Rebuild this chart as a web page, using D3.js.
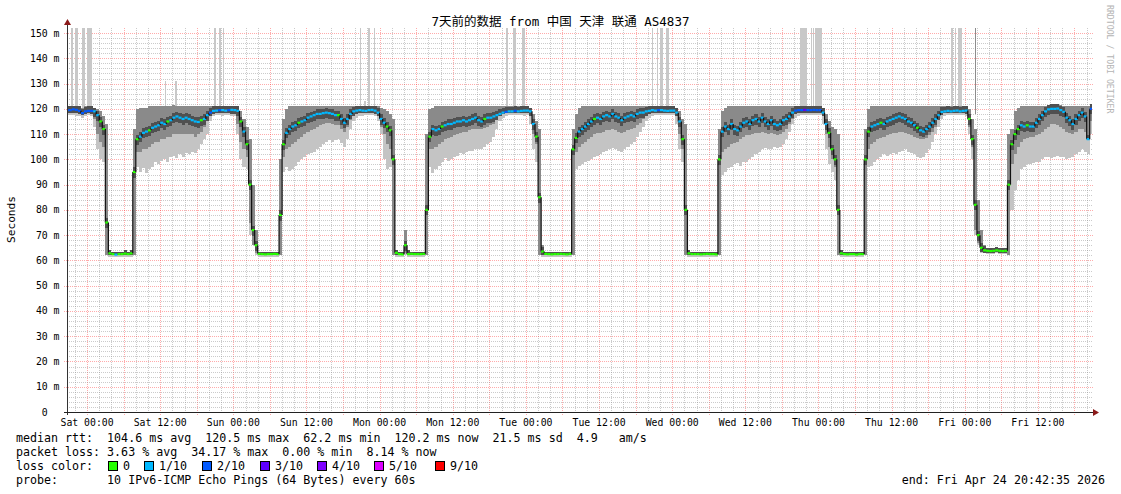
<!DOCTYPE html>
<html><head><meta charset="utf-8">
<script src="https://cdn.jsdelivr.net/npm/d3@7"></script>
<style>
html,body{margin:0;padding:0;background:#fff;}
svg{display:block;}
text{font-family:"DejaVu Sans Mono","Noto Sans CJK SC",monospace;white-space:pre;}
</style></head><body>
<svg id="c" width="1121" height="494"></svg>
<script>
// ---- data: 30-minute bins starting Fri 2026-04-17 20:30 UTC ----
const binStart = Date.UTC(2026,3,17,20,30,0);
const binMinutes = 30;

// median rtt (ms)
const median = [
119.5,119.5,119.8,119.6,119.2,118.3,119.0,
// Sat
119.2,119.2,119.0,117.5,115,112,75,62.8,
62.5,62.3,62.5,62.5,62.7,62.5,62.8,95,
108,109,110.5,111,111.5,112.5,113,113.5,
114.5,114,115,115.5,116.5,117,116.5,116,
116.5,116,115.5,115,114.8,115.5,116,117.5,
118.5,119.2,119.3,119.5,119.5,119.3,119.5,119.6,
// Sun
119.5,119.2,115,111,106,90,72,66,
62.6,62.5,62.4,62.5,62.5,62.6,62.5,78,
106,110.5,112,113,113.5,114.5,115,115.5,
116.5,117,117.5,118,118,118.3,118.5,118.3,
118,117.5,117.5,116,114.5,116,118,119,
119.3,119.5,119.3,119.2,119.5,119.6,119.3,118.5,
// Mon
116,114.5,113,111.5,100,63,62.5,62.4,
66,62.5,62.6,62.5,62.5,62.5,62.6,80,
109,112,111.5,112,113,113.5,114,114,
114.5,115,115,115.5,115,115.5,116,116.5,
115.5,115,116,116.5,116.5,117,117.5,118,
118.5,118.8,119,119,119.2,119,119.2,119.3,
// Tue
119.3,119,114,109,85,63.5,62.6,62.5,
62.4,62.5,62.5,62.6,62.5,62.4,62.6,104,
108.5,111,112,113,114,115,116,116.5,
116,117,117.5,117,118,117,116.5,115.5,
116.5,117,117.5,117,118,118.5,118.5,119,
119.2,119.5,119.3,119.5,119.5,119.3,119.2,119.3,
// Wed
119.3,118.5,115,108,80,62.8,62.5,62.5,
62.5,62.4,62.5,62.6,62.5,62.5,62.4,100,
111,113,112,114,112,111.5,113,114.5,
115,114,115.5,116,115,116.5,115,114,
115.5,114,113.5,114,115.5,116,117,118.5,
119.3,119.5,119.5,119.6,119.5,119.5,119.6,119.5,
// Thu
119.5,118.5,114,110.5,104,100,80,62.8,
62.5,62.4,62.5,62.5,62.3,62.5,62.5,100,
111,113,113.5,114,114.5,114,115,115.5,
116,116.5,117,116.5,116,115,114.5,113.5,
112.5,111.5,111,112,113,114.5,116,117.5,
118.8,119,119.2,119,119.2,119.3,119,119.2,
// Fri
119.3,116,108,82,70,65,64,63.8,
63.7,63.8,64,63.8,63.7,63.8,90,106,
110,112,113.5,113,113.5,113,113,114.5,
116,117.5,119,119.8,120,120,120.1,119.5,
118.8,116.5,115.5,114,116,117.5,118.5,117,
108,120
];

// top of the smoke (highest ping, ms)
const smokeHigh = [
121,121,121,121,121,120.5,121,
// Sat
121,121,120.5,120,119,117,114,64,
63.5,63.5,63.5,63.5,64,63.5,64,112,
120,120.5,120.5,120.5,121,121,121,121,
121,121,121,121,121.5,121,121,121,
121,121,121,121,121,121,121,121,
121,121,121,121,121,121,121,121,
// Sun
121,121,119,116,113,108,90,72,
63.5,63.5,63.5,63.5,63.5,63.5,63.5,100,
116,120,121,121,121,121,121,121,
121,121,121,121,121,121,121,121,
121,121,121,121,121,121,121,121,
121,121,121,121,121,121,121,121,
// Mon
120.5,120,119,118,116,64,63.5,63.5,
72,64,63.5,63.5,63.5,63.5,63.5,110,
120,120.5,121,121,121,121,121,121,
121,121,121,121,121,121,121,121,
121,121,121,121,121,121,121,121,
121,121,121,121,121,121,121,121,
// Tue
121,120.5,118,115,112,66,63.5,63.5,
63.5,63.5,63.5,63.5,63.5,63.5,63.5,112,
118,120.5,121,121,121,121,121,121,
121,121,121,121,121,121,121,121,
121,121,121,121,121,121,121,121,
121,121,121,121,121,121,121,121,
// Wed
121,120.5,119,116,114,64,63.5,63.5,
63.5,63.5,63.5,63.5,63.5,63.5,63.5,112,
119,120.5,121,121,121,121,121,121,
121,121,121,121,121,121,121,121,
121,121,121,121,121,121,121,121,
121,121,121,121,121,121,121,121,
// Thu
121,120.5,118,115,113,112,110,64,
63.5,63.5,63.5,63.5,63.5,63.5,63.5,112,
120,121,121,121,121,121,121,121,
121,121,121,121,121,121,121,121,
121,121,121,121,121,121,121,121,
121,121,121,121,121,121,121,121,
// Fri
121,120,116,112,84,72,66,65,
65,65,65.5,65,65,65,110,112,
119,120.5,121,121,121,121,121,121,
121,121,121,121.5,122,122,122,121.5,
121,121,121,121,121,121,121,121,
121,122
];

// bottom of the light smoke (lowest ping, ms)
const smokeLow = [
117.5,117.5,117.5,117,117,116.5,117,
// Sat
117.5,117,113,104,100,99,62,61.5,
61.5,61.5,61.5,61.5,61.5,61.5,61.5,62,
97,95,96.5,94.5,96,97,99,98,
99.5,100,99,101,101.5,100.5,102,101,
102.5,102,103,102.5,104,106,108,110,
115,117,117.5,117.5,117,117.5,117.5,117,
// Sun
117,110,100,97,96,70,66,62,
61.5,61.5,61.5,61.5,61.5,61.5,61.5,62,
95,97,95.5,96,97.5,99,100,101,
102,102.5,103,104,105,106,107,107.5,
107,107.5,108,106.5,105,108,112,115,
116.5,117,117,117.5,117.5,117.5,117,115,
// Mon
110,100,96,97,62,61.5,61.5,61.5,
62,61.5,61.5,61.5,61.5,61.5,61.5,62,
97,94.5,96,97.5,99,100.5,99.5,100,
101,101.5,102.5,102,103,103.5,103.5,104,
104,104,105,106,107,109,112,115,
116.5,117,117.5,117.5,117.5,117.5,117.5,117,
// Tue
117.5,114,104,99,62,61.5,61.5,61.5,
61.5,61.5,61.5,61.5,61.5,61.5,61.5,62,
96,97.5,98,99,99.5,100,101,101.5,
102,103,103.5,104,104.5,104,103.5,103,
104,105,106,107,109,111,113,115,
116.5,117,117.5,117.5,117.5,117.5,117.5,117.5,
// Wed
117.5,114,104,99,62,61.5,61.5,61.5,
61.5,61.5,61.5,61.5,61.5,61.5,61.5,62,
94,95,96.5,97,98,98.5,97.5,99,
99,100,101,102,103,104,104.5,104,
104,105,104.5,105,106,108,111,114,
116.5,117,117.5,117.5,117.5,117.5,117.5,117.5,
// Thu
117.5,114,104,98,95,92,62,61.5,
61.5,61.5,61.5,61.5,61.5,61.5,61.5,62,
97,97.5,99,100,101,102,101.5,102,
102.5,102,103,103.5,104,103,102.5,102,
101,100.5,101,102.5,104,107,110,113,
116,117,117.5,117.5,117.5,117.5,117.5,117.5,
// Fri
117,110,100,70,66,63,63,62.5,
62.5,62.5,63,62.5,62.5,62.5,62,80,
88,92,96,97,98,98,98.5,99,
99,100,101,101,100.5,101,101.5,101,
101,100,100.5,101,102,103,104,103,
102,110
];

// bottom of the denser smoke, ms
const smokeCore = [
118.5,118.5,118.5,118.5,118,117.5,118,
// Sat
118.5,118,116,110,107,105,62,62,
62,62,62,62,62,62,62,62,
103,103,104,104,105,106,107,107,
108,108,109,109,110,110,110,110,
110,110,110,109,110,111,113,115,
117,118,118.5,118.5,118.5,118.5,118.5,118,
// Sun
118,114,107,104,101,75,66,63,
62,62,62,62,62,62,62,62,
101,104,105,106,107,108,109,110,
111,111.5,112,113,113.5,114,114.5,114.5,
114,113.5,113.5,112,111,113,115.5,117,
118,118.5,118.5,118.5,118.5,118.5,118,117,
// Mon
113,110,106,104,62,62,62,62,
63,62,62,62,62,62,62,62,
104,104,105,106,107,108,108.5,109,
109.5,110,110.5,111,111,111.5,112,112,
112,112,112.5,113,113.5,114,115.5,117,
118,118.3,118.5,118.5,118.5,118.5,118.5,118.5,
// Tue
118.5,117,110,106,62,62,62,62,
62,62,62,62,62,62,62,62,
103,105,106,107,108,109,110,110.5,
110.5,111,111.5,111.5,112,111.5,111,110.5,
111,111.5,112,112.5,113.5,114.5,116,117,
118,118.5,118.5,118.5,118.5,118.5,118.5,118.5,
// Wed
118.5,117,110,104,62,62,62,62,
62,62,62,62,62,62,62,62,
103,104,105,106,106.5,107,108,109,
109.5,109.5,110,110.5,110.5,111,110.5,110,
110.5,110,109.5,110,111,112,114,116,
118,118.5,118.5,118.5,118.5,118.5,118.5,118.5,
// Thu
118.5,117,110,105,100,97,62,62,
62,62,62,62,62,62,62,62,
104,106,107,108,108.5,109,109.5,110,
110.5,110.5,111,111,110.5,110,109.5,109,
108.5,108,108,108.5,109.5,111,113,115.5,
117.5,118.3,118.5,118.5,118.5,118.5,118.5,118.5,
// Fri
118,113,105,72,67,63.5,63,63,
63,63,63.5,63,63,63,62,98,
102,105,107,108,108.5,109,109,109.5,
110,111,112,113,114,114,113.5,113,
112,111,110.5,110,111,112,112,111,
108,115
];

// packets lost out of 10 per bin
const loss = [
2,2,2,2,2,2,2,
2,2,1,1,0,0,0,0, 0,1,0,0,0,0,0,0, 0,1,1,1,0,1,1,1, 1,1,0,1,1,1,1,1, 1,1,1,1,1,0,1,1, 2,1,1,2,1,1,2,1,
1,1,0,1,0,0,0,0, 0,0,0,0,0,0,0,0, 0,1,1,1,1,0,1,1, 1,1,1,1,1,1,1,1, 1,1,0,1,1,1,1,1, 1,1,1,1,1,1,1,1,
1,1,0,0,0,0,0,0, 0,0,0,0,0,0,0,0, 0,1,1,1,0,1,1,1, 1,1,1,1,1,1,1,1, 1,1,0,1,1,1,1,1, 1,2,1,1,2,1,1,1,
1,1,1,0,0,0,0,0, 0,0,0,0,0,0,0,0, 0,1,1,1,1,1,0,1, 1,1,1,1,1,1,1,1, 1,1,1,1,1,1,1,1, 1,1,1,2,1,1,1,1,
1,1,1,0,0,0,0,0, 0,0,0,0,0,0,0,0, 1,1,1,1,1,1,1,1, 1,1,1,1,1,1,1,1, 1,1,1,1,1,1,1,1, 2,2,2,3,2,2,2,2,
2,1,1,0,0,0,0,0, 0,0,0,0,0,0,0,0, 0,1,1,1,0,1,1,1, 1,1,1,1,1,1,1,1, 0,1,1,1,1,1,1,1, 1,1,1,1,1,1,1,1,
1,0,0,0,0,0,0,0, 0,0,0,0,0,0,0,0, 0,0,1,1,0,1,1,1, 1,1,1,1,1,1,1,1, 1,1,1,1,1,1,1,1, 1,2
];

// outlier spikes: hours after Sat 00:00 UTC, top value (ms), tone
const spikeFrom = [-2.59,-2.05,-0.79,0.03,12.8,14.4,20.8,21.6,22.3,44.8,45.5,46.1,47.0,68.8,69.9,71.3,92.66,93.5,94.0,95.0,116.9,118.75,119.1,119.4,141.8,142.4,142.9,145.6];
const spikeTo   = [-2.43,-1.44,-0.36,0.74,12.97,14.7,21.2,22.0,22.5,44.95,45.7,46.35,47.25,69.1,70.3,71.8,92.92,93.7,94.5,95.4,118.1,118.9,119.25,120.5,141.95,142.55,143.5,145.75];
const spikeTop  = [999,999,999,999,131,131,999,999,999,999,123,999,999,999,999,999,999,999,999,999,999,999,999,999,999,999,999,999];
const spikeTone = [0,0,0,0,0,0,0,0,0,0,0,0,0,0,0,0,0,0,0,0,0,0,0,0,0,0,0,1];

const lossColors = ["#26ff00","#00b8ff","#0059ff","#5e00ff","#7e00ff","#dd00ff","#dd00ff","#dd00ff","#dd00ff","#ff0000","#ff0000"];
const legendLoss = [0,1,2,3,4,5,9];
const legendLossLabels = ["0","1/10","2/10","3/10","4/10","5/10","9/10"];

const titleText = "7天前的数据 from 中国 天津 联通 AS4837";
const statRows = [
  "median rtt:  104.6 ms avg  120.5 ms max  62.2 ms min  120.2 ms now  21.5 ms sd  4.9   am/s",
  "packet loss: 3.63 % avg  34.17 % max  0.00 % min  8.14 % now"
];
const probeText = "probe:       10 IPv6-ICMP Echo Pings (64 Bytes) every 60s";
const endText = "end: Fri Apr 24 20:42:35 2026";

// ---- drawing ----
const W = 1121, H = 494;
const P = {l:67, r:1091, t:28, b:412};
const tStart = new Date(Date.UTC(2026,3,17,20,42,35));
const tEnd = new Date(Date.UTC(2026,3,24,20,42,35));
const satMs = Date.UTC(2026,3,18,0,0,0);
const x = d3.scaleUtc().domain([tStart,tEnd]).range([P.l,P.r]);
const y = d3.scaleLinear().domain([0,152]).range([P.b,P.t]);

const svg = d3.select("#c");
svg.append("rect").attr("width",W).attr("height",H).attr("fill","#fff");
svg.append("clipPath").attr("id","pc").append("rect")
  .attr("x",P.l).attr("y",P.t).attr("width",P.r-P.l+1).attr("height",P.b-P.t);

const binT = k => new Date(binStart + k*binMinutes*60000);
const idx = d3.range(median.length);

// grid (under the data)
const gridG = svg.append("g").attr("shape-rendering","crispEdges").attr("fill","none");
const minorCol = "rgba(140,140,140,0.45)", majorCol = "rgba(255,0,0,0.33)";
d3.utcHour.every(2).range(tStart,tEnd).forEach(d=>{
  const major = d.getUTCHours()%6===0;
  const xx = Math.round(x(d))+0.5;
  gridG.append("line").attr("x1",xx).attr("x2",xx).attr("y1",P.t).attr("y2",major?P.b+3:P.b)
    .attr("stroke",major?majorCol:minorCol).attr("stroke-dasharray","1,1");
});
d3.range(2,152,2).forEach(v=>{
  const major = v%10===0;
  const yy = Math.round(y(v))+0.5;
  gridG.append("line").attr("x1",major?P.l-3:P.l).attr("x2",P.r+2).attr("y1",yy).attr("y2",yy)
    .attr("stroke",major?majorCol:minorCol).attr("stroke-dasharray","1,1");
});

const plotG = svg.append("g").attr("clip-path","url(#pc)");

// spikes
const spG = plotG.append("g").attr("shape-rendering","crispEdges");
spikeFrom.forEach((s,i)=>{
  const x0 = x(new Date(satMs + s*3600e3)), x1 = x(new Date(satMs + spikeTo[i]*3600e3));
  spG.append("rect").attr("x",x0).attr("width",Math.max(1.3,x1-x0))
    .attr("y",y(Math.min(spikeTop[i],152))).attr("height",y(118)-y(Math.min(spikeTop[i],152)))
    .attr("fill",spikeTone[i] ? "#8c8c8c" : "#c8c8c8");
});

// smoke: light (full range), medium (dense part), dark (close to the median)
const smG = plotG.append("g").attr("shape-rendering","crispEdges");
idx.forEach(k=>{
  const x0 = x(binT(k)), x1 = x(binT(k+1));
  const top = y(smokeHigh[k]);
  smG.append("rect").attr("x",x0).attr("width",x1-x0)
    .attr("y",top).attr("height",Math.max(1,y(smokeLow[k])-top)).attr("fill","#c4c4c4");
  smG.append("rect").attr("x",x0).attr("width",x1-x0)
    .attr("y",top).attr("height",Math.max(1,y(smokeCore[k])-top)).attr("fill","#8a8a8a");
  const dTop = y(Math.min(smokeHigh[k], median[k]+1.8));
  const dBot = y(Math.max(smokeCore[k], median[k]-2.2));
  smG.append("rect").attr("x",x0).attr("width",x1-x0)
    .attr("y",dTop).attr("height",Math.max(1,dBot-dTop)).attr("fill","#505050");
});

// median line
const mG = plotG.append("g");
idx.forEach(k=>{
  const x0 = x(binT(k)), x1 = x(binT(k+1));
  if (k>0 && Math.abs(median[k]-median[k-1])>0.8) {
    mG.append("line").attr("x1",x0).attr("x2",x0).attr("y1",y(median[k-1])).attr("y2",y(median[k]))
      .attr("stroke","#111").attr("stroke-width",1.2);
  }
  mG.append("line").attr("x1",x0).attr("x2",x1).attr("y1",y(median[k])).attr("y2",y(median[k]))
    .attr("stroke",lossColors[loss[k]]).attr("stroke-width",2.2);
});

// axes
const axG = svg.append("g").attr("shape-rendering","crispEdges");
axG.append("line").attr("x1",P.l+0.5).attr("x2",P.l+0.5).attr("y1",P.b+3).attr("y2",24).attr("stroke","#333");
axG.append("line").attr("x1",P.l-3).attr("x2",P.r+3).attr("y1",P.b+0.5).attr("y2",P.b+0.5).attr("stroke","#222");
svg.append("path").attr("d",`M${P.l-3},${25}L${P.l+4},${25}L${P.l+0.5},${19}Z`).attr("fill","#8b1a1a");
svg.append("path").attr("d",`M${P.r+2},${P.b-3}L${P.r+2},${P.b+4}L${P.r+8},${P.b+0.5}Z`).attr("fill","#8b1a1a");

// axis labels
const axisFont = "9.8px";
d3.utcHour.every(12).range(tStart,tEnd).forEach(d=>{
  svg.append("text").attr("x",x(d)).attr("y",426).attr("text-anchor","middle")
    .attr("font-size",axisFont).attr("fill","#000").text(d3.utcFormat("%a %H:%M")(d));
});
d3.range(0,151,10).forEach(v=>{
  svg.append("text").attr("x",59.5).attr("y",y(v)+3.5).attr("text-anchor","end")
    .attr("font-size",axisFont).attr("fill","#000").text(v===0?"0  ":v+" m");
});

// title, unit, watermark
svg.append("text").attr("x",560.5).attr("y",26).attr("text-anchor","middle")
  .attr("font-size","12.5px").attr("fill","#000").text(titleText);
svg.append("text").attr("transform","translate(15,219.5) rotate(-90)").attr("text-anchor","middle")
  .attr("font-size","11.2px").attr("fill","#000").text("Seconds");
svg.append("text").attr("transform","translate(1107,5) rotate(90)").attr("text-anchor","start")
  .attr("font-size","8.2px").attr("fill","#b4b4b4").text("RRDTOOL / TOBI OETIKER");

// legend
const legFont = "11.65px";
statRows.forEach((s,i)=>{
  svg.append("text").attr("x",16).attr("y",442+14*i).attr("font-size",legFont).attr("fill","#000").text(s);
});
svg.append("text").attr("x",16).attr("y",470).attr("font-size",legFont).attr("fill","#000").text("loss color:");
const boxX = [108,144,202,260,317,374,435];
legendLoss.forEach((l,i)=>{
  svg.append("rect").attr("x",boxX[i]+0.5).attr("y",461.5).attr("width",9).attr("height",9)
    .attr("fill",lossColors[l]).attr("stroke","#000").attr("stroke-width",1).attr("shape-rendering","crispEdges");
  svg.append("text").attr("x",boxX[i]+15).attr("y",470).attr("font-size",legFont).attr("fill","#000").text(legendLossLabels[i]);
});
svg.append("text").attr("x",16).attr("y",484).attr("font-size",legFont).attr("fill","#000").text(probeText);
svg.append("text").attr("x",1105).attr("y",484).attr("text-anchor","end").attr("font-size",legFont).attr("fill","#000").text(endText);
</script>
</body></html>
